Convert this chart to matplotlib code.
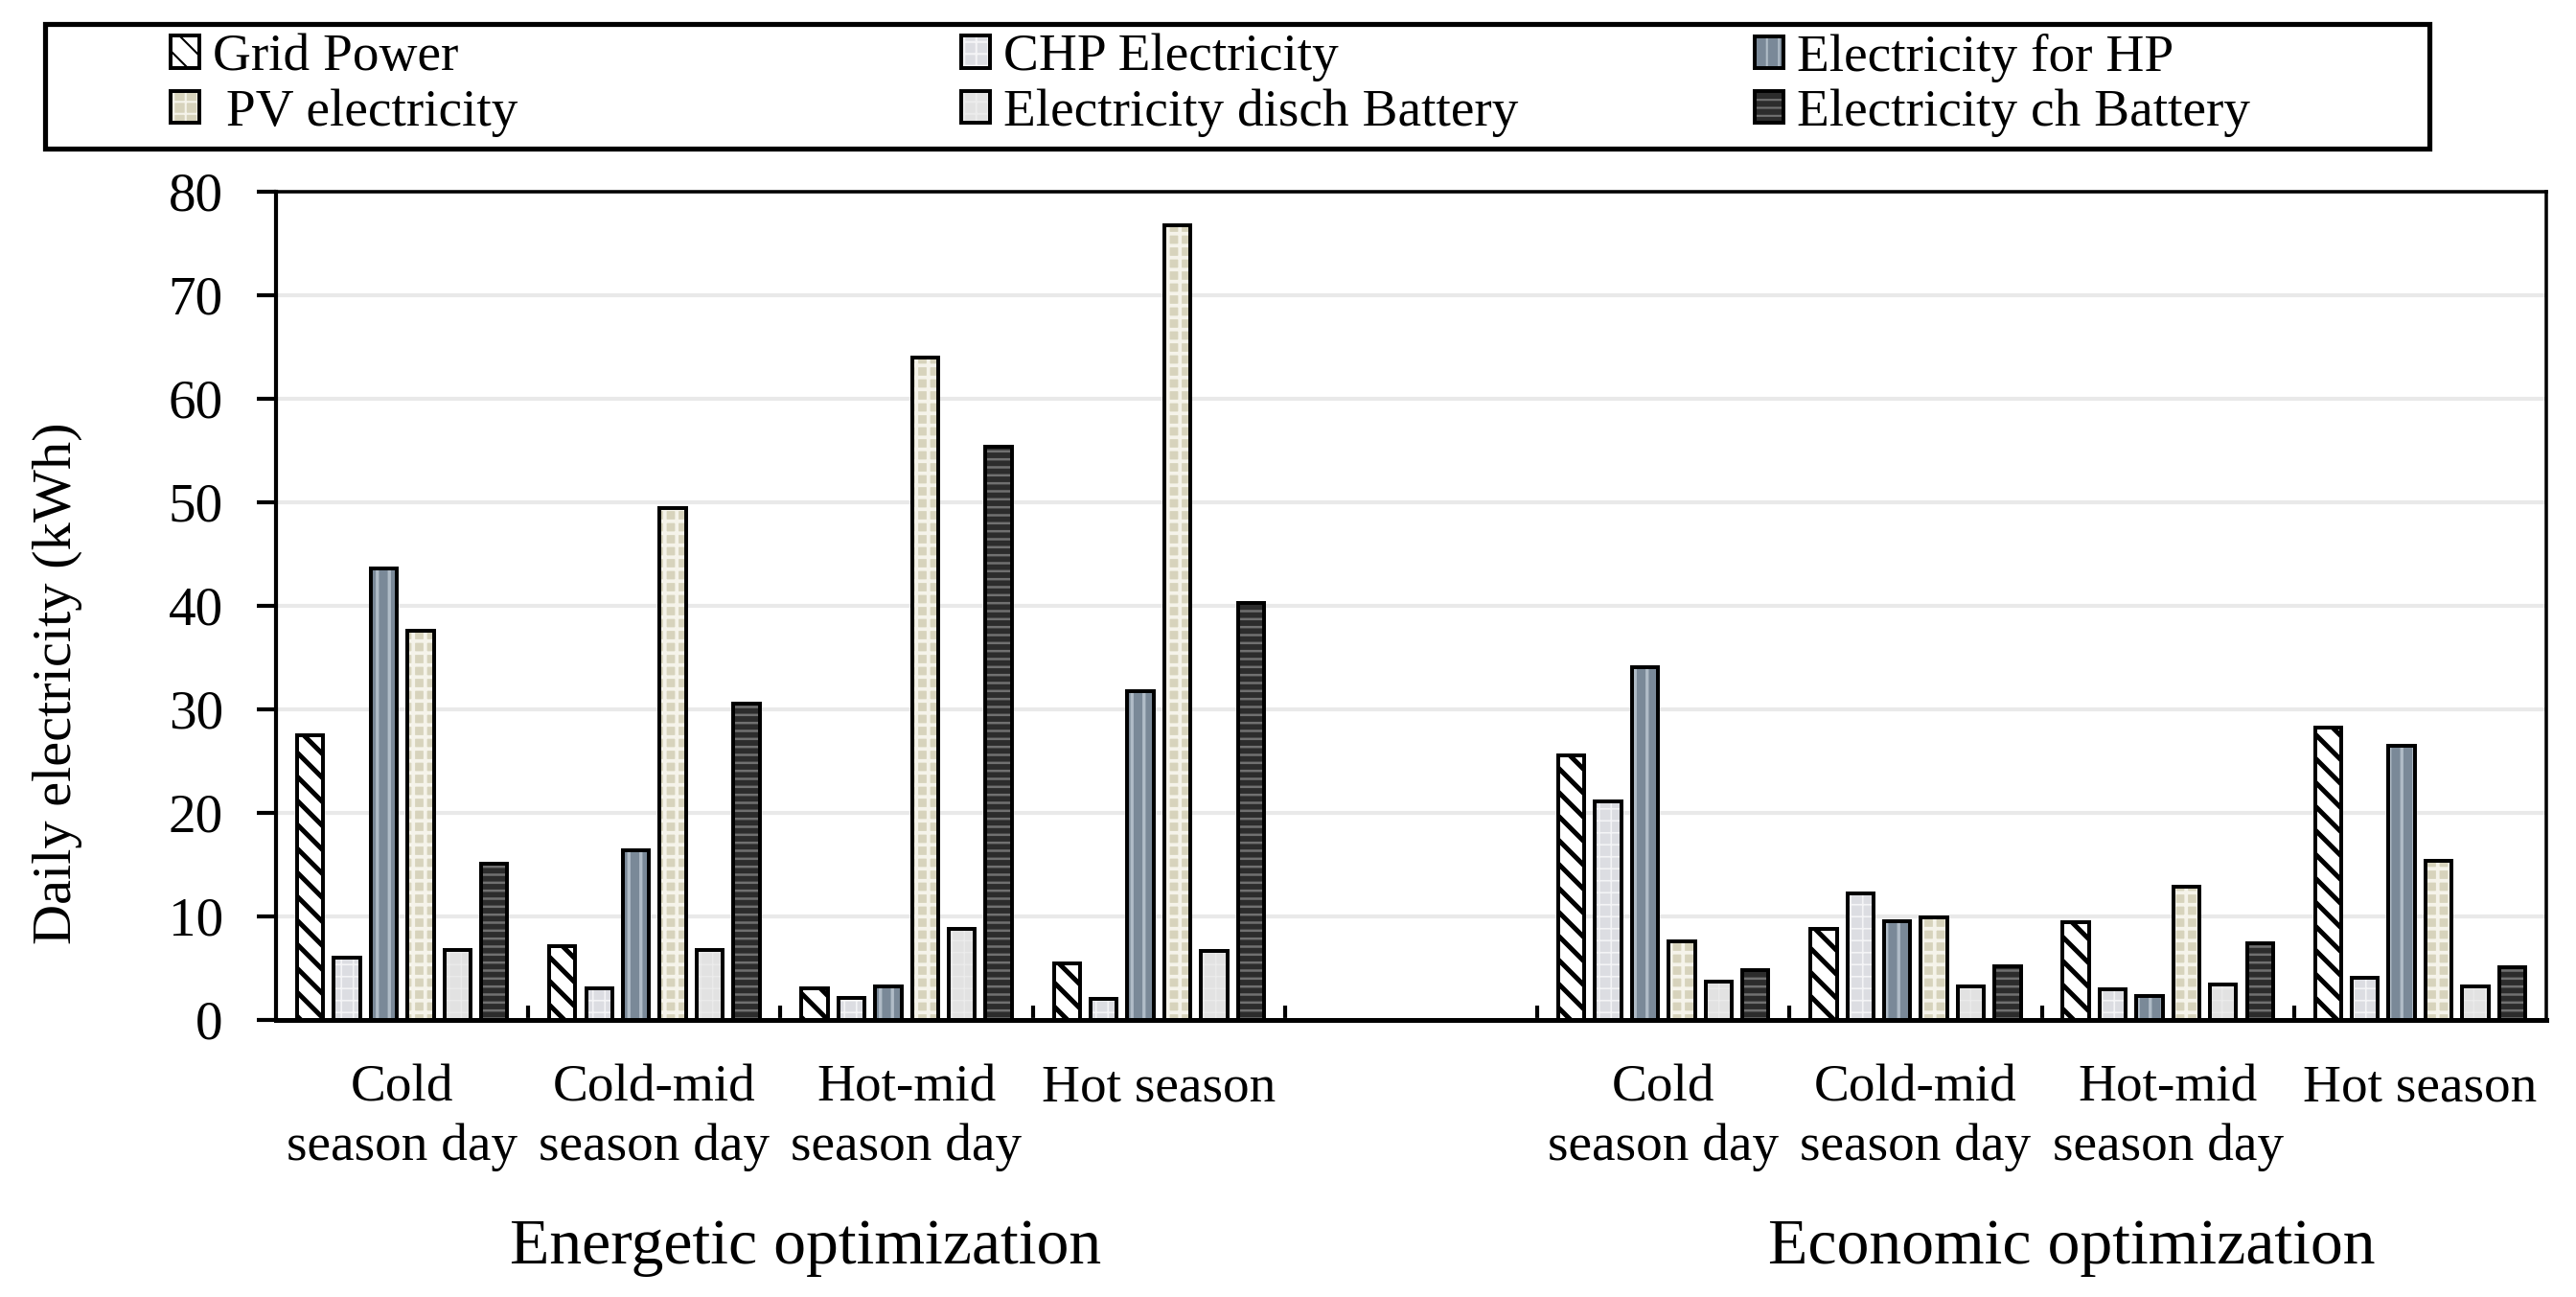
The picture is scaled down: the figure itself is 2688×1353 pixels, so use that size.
import matplotlib
matplotlib.use('Agg')
import matplotlib.pyplot as plt
import matplotlib.transforms as mtransforms
from matplotlib.patches import Rectangle
import numpy as np

plt.rcParams['font.family'] = ['Liberation Serif', 'DejaVu Serif']

# categories (slot 4 is the empty gap between the two optimizations)
slot_labels = ['Cold\nseason day', 'Cold-mid\nseason day', 'Hot-mid\nseason day', 'Hot season', '',
               'Cold\nseason day', 'Cold-mid\nseason day', 'Hot-mid\nseason day', 'Hot season']
group_titles = ['Energetic optimization', 'Economic optimization']
series_names = ['Grid Power', 'CHP Electricity', 'Electricity for HP',
                ' PV electricity', 'Electricity disch Battery', 'Electricity ch Battery']

# daily electricity (kWh): 4 energetic days then 4 economic days
grid_power = [27.5, 7.1, 3.1, 5.5, 25.6, 8.8, 9.4, 28.2]
chp_elec = [6.0, 3.1, 2.1, 2.0, 21.1, 12.2, 3.0, 4.1]
hp_elec = [43.6, 16.4, 3.2, 31.8, 34.1, 9.5, 2.3, 26.5]
pv_elec = [37.6, 49.4, 64.0, 76.8, 7.6, 9.9, 12.9, 15.4]
disch_batt = [6.8, 6.8, 8.8, 6.7, 3.7, 3.2, 3.4, 3.2]
ch_batt = [15.1, 30.6, 55.4, 40.3, 4.8, 5.2, 7.4, 5.1]
yticks = [0, 10, 20, 30, 40, 50, 60, 70, 80]

values = [grid_power, chp_elec, hp_elec, pv_elec, disch_batt, ch_batt]

# (face colour, hatch colour, hatch, hatch linewidth)
styles = [
    ('white', 'black', '\\\\', 2.4),
    ('#dcdde2', '#f4f4f6', '++', 0.8),
    ('#7a8998', '#b0bcc7', '||', 1.6),
    ('#d7d3bc', '#f5f3ea', '++', 1.8),
    ('#e2e2e2', '#ececec', '++', 0.6),
    ('#2c2c2c', '#707070', '---', 1.2),
]

W, H, DPI = 2688, 1353, 150
fig = plt.figure(figsize=(W / DPI, H / DPI), dpi=DPI)
ax = fig.add_axes([288 / W, 1 - 1064 / H, (2657 - 288) / W, (1064 - 200) / H])

pos = np.array([0, 1, 2, 3, 5, 6, 7, 8])
pitch = 0.146
width = 0.104

handles = []
for i, vals in enumerate(values):
    face, hcol, hatch, hlw = styles[i]
    xs = pos + (i - 2.5) * pitch
    with plt.rc_context({'hatch.color': hcol, 'hatch.linewidth': hlw}):
        fill = ax.bar(xs, vals, width, color=face, hatch=hatch, linewidth=0, zorder=2)
    for p in fill:
        if hasattr(p, 'set_hatch_linewidth'):
            p.set_hatch_linewidth(hlw)
    edge = ax.bar(xs, vals, width, facecolor='none', edgecolor='black', linewidth=1.9, zorder=3)
    handles.append((fill, edge))

ax.set_xlim(-0.5, 8.5)
ax.set_ylim(0, 80)
ax.set_yticks(yticks)
ax.set_xticks(range(len(slot_labels)))
ax.set_xticklabels(slot_labels, fontsize=26.5, linespacing=1.3)
ax.set_xticks(np.arange(0.5, 8.0, 1.0), minor=True)
ax.tick_params(axis='x', which='major', length=0, pad=22)
ax.tick_params(axis='x', which='minor', direction='in', length=7, width=2)
ax.tick_params(axis='y', direction='out', length=9.5, width=2, pad=17, labelsize=27.5)

ax.yaxis.grid(True, color='#e9e9e9', linewidth=2)
ax.set_axisbelow(True)
ax.spines['left'].set_linewidth(2.0)
ax.spines['bottom'].set_linewidth(2.4)
ax.spines['top'].set_linewidth(1.7)
ax.spines['right'].set_linewidth(1.7)

fig.text(60 / W, 1 - 713 / H, 'Daily electricity (kWh)', rotation=90,
         ha='center', va='center', fontsize=28)

trans = mtransforms.blended_transform_factory(ax.transData, fig.transFigure)
ax.text(1.6, 1 - 1318 / H, group_titles[0], transform=trans, ha='center', va='baseline', fontsize=32.5)
ax.text(6.62, 1 - 1318 / H, group_titles[1], transform=trans, ha='center', va='baseline', fontsize=32.5)

# legend: frame box plus three columns
fig.add_artist(Rectangle((47 / W, 1 - 155 / H), (2535 - 47) / W, 130 / H,
                         transform=fig.transFigure, fill=False, edgecolor='black', linewidth=2.5))
col_x = [178, 1003, 1831]
for c in range(3):
    idx = [c, c + 3]
    fig.legend([handles[k] for k in idx], [series_names[k] for k in idx],
               loc='center left', bbox_to_anchor=(col_x[c] / W, 1 - 89 / H),
               frameon=False, borderpad=0, borderaxespad=0,
               handlelength=0.55, handleheight=0.55, handletextpad=0.25,
               labelspacing=0.13, fontsize=26.5)

fig.savefig('out.png', dpi=DPI)
